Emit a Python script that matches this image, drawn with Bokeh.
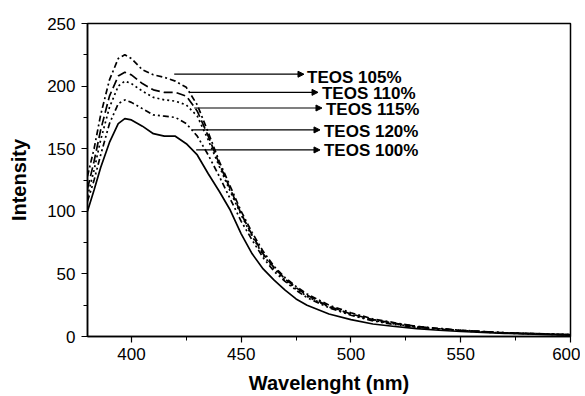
from bokeh.plotting import figure
from bokeh.models import Range1d, FixedTicker, ColumnDataSource, Arrow, NormalHead
from bokeh.core.properties import value
from bokeh.embed import file_html
from bokeh.resources import INLINE

wavelength = [380, 383, 386, 390, 394, 397, 400, 405, 410, 415, 420, 425, 430, 435,
              440, 445, 450, 455, 460, 465, 470, 475, 480, 490, 500, 510, 520, 530,
              540, 550, 560, 570, 580, 590, 600]

teos_105 = [128, 150, 177, 205, 222, 225, 222, 213, 209, 207, 204, 199, 185, 163,
            140, 120, 100, 83, 68, 56, 47, 40, 34, 25, 19, 14, 11, 8,
            6.5, 5, 4, 3, 2.5, 2, 1.5]
teos_110 = [118, 140, 165, 192, 208, 211, 209, 202, 197, 195, 195, 192, 180, 160,
            138, 118, 98, 81, 66, 55, 46, 39, 33, 24, 18, 13.5, 10.5, 8,
            6.2, 5, 4, 3, 2.5, 2, 1.5]
teos_115 = [112, 133, 157, 183, 200, 204, 202, 196, 191, 189, 188, 185, 176, 157,
            136, 116, 97, 80, 65, 54, 45, 38, 32, 23.5, 17.5, 13, 10, 7.5,
            6, 4.8, 3.8, 3, 2.4, 1.9, 1.4]
teos_120 = [108, 125, 145, 170, 186, 189, 187, 182, 177, 176, 175, 170, 160, 145,
            128, 110, 92, 77, 63, 52, 44, 37, 31, 23, 17, 12.5, 9.5, 7.3,
            5.8, 4.6, 3.6, 2.8, 2.2, 1.8, 1.3]
teos_100 = [100, 117, 135, 155, 170, 174, 173, 168, 162, 160, 160, 154, 145, 130,
            116, 101, 82, 66, 54, 45, 37, 30, 25, 18, 13.5, 10, 8, 6.3,
            5, 4, 3.2, 2.5, 2, 1.5, 1]

x_ticks = [400, 450, 500, 550, 600]
x_minor = [425, 475, 525, 575]
y_ticks = [0, 50, 100, 150, 200, 250]
y_minor = [25, 75, 125, 175, 225]

labels = ["TEOS 105%", "TEOS 110%", "TEOS 115%", "TEOS 120%", "TEOS 100%"]
arrow_x0 = [419.5, 426.4, 428.6, 427.7, 429.5]
arrow_x1 = [478.6, 485.0, 486.8, 485.9, 485.9]
arrow_y = [209.5, 195, 182.5, 165, 149]
label_x = [480.0, 486.8, 488.6, 487.7, 487.7]
label_y = [207, 194, 181.5, 164, 148.5]

p = figure(width=580, height=396, output_backend="svg", toolbar_location=None,
           x_range=Range1d(380, 600), y_range=Range1d(0, 250),
           min_border_left=87, min_border_right=10, min_border_top=23,
           min_border_bottom=57)
p.background_fill_color = "white"
p.border_fill_color = "white"
p.grid.visible = False
p.outline_line_color = "black"
p.outline_line_width = 1.5

series = [
    (teos_105, "6 3 2 3"),
    (teos_110, "9 4"),
    (teos_115, "2 3"),
    (teos_120, "6 3 2 3 2 3"),
    (teos_100, "solid"),
]
for ys, dash in series:
    p.line(wavelength, ys, line_color="black", line_width=1.7, line_dash=dash)

src = ColumnDataSource(dict(x0=arrow_x0, x1=arrow_x1, y=arrow_y, lx=label_x,
                            ly=label_y, t=labels))
p.add_layout(Arrow(x_start="x0", y_start="y", x_end="x1", y_end="y", source=src,
                   line_color="black", line_width=1.2,
                   end=NormalHead(size=6, fill_color="black", line_color="black")))
p.text(x="lx", y="ly", text="t", source=src, text_font=value("Liberation Sans"),
       text_font_style="bold", text_font_size="17px", text_baseline="middle",
       text_align="left", text_color="black")

for ax in (p.xaxis[0], p.yaxis[0]):
    ax.axis_line_color = "black"
    ax.axis_line_width = 1.5
    ax.major_tick_line_color = "black"
    ax.minor_tick_line_color = "black"
    ax.major_tick_line_width = 1.2
    ax.minor_tick_line_width = 1
    ax.major_tick_out = 6
    ax.major_tick_in = 0
    ax.minor_tick_out = 4
    ax.minor_tick_in = 0
    ax.major_label_text_font = "Liberation Sans"
    ax.major_label_text_font_size = "17px"
    ax.major_label_text_color = "black"
    ax.axis_label_text_font = "Liberation Sans"
    ax.axis_label_text_font_style = "bold"
    ax.axis_label_text_font_size = "20px"
    ax.axis_label_text_color = "black"

p.xaxis.ticker = FixedTicker(ticks=x_ticks, minor_ticks=x_minor)
p.yaxis.ticker = FixedTicker(ticks=y_ticks, minor_ticks=y_minor)
p.xaxis.axis_label = "Wavelenght (nm)"
p.yaxis.axis_label = "Intensity"
p.xaxis.major_label_standoff = 5
p.yaxis.major_label_standoff = 6
p.xaxis.axis_label_standoff = 9
p.yaxis.axis_label_standoff = 14

open("out.html", "w").write(file_html(p, INLINE))
